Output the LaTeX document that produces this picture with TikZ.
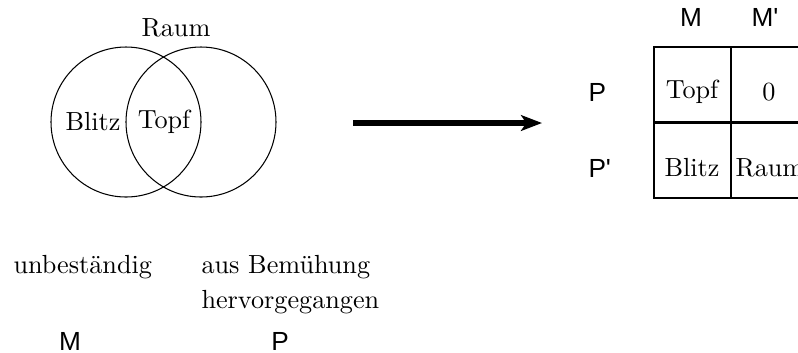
\documentclass[tikz,border=0pt]{standalone}
\usepackage{fontspec}
\newfontfamily\labsans{Liberation Sans}
\usetikzlibrary{arrows.meta}
\begin{document}
\begin{tikzpicture}[x=0.3817pt,y=-0.3817pt,
  venn/.style={draw,line width=0.4pt},
  txt/.style={inner sep=0pt,font=\fontsize{10}{12}\selectfont},
  lab/.style={inner sep=0pt,font=\labsans\fontsize{10}{12}\selectfont},
  grid/.style={draw,line width=0.9pt}]
\useasboundingbox (0,0) rectangle (798,352);
% Venn
\draw[venn] (126,122) circle[radius=75];
\draw[venn] (201,122) circle[radius=75];
\node[txt] (raum) at (176,28) {Raum};
\node[txt] (blitz) at (93,122) {Blitz};
\node[txt] (topf) at (164,122) {Topf};
% arrow
\coordinate (as) at (353,123);
\coordinate (ae) at (542,123);
\draw[line width=2pt,-{Stealth[length=8pt,width=6pt,inset=2pt]}] (as) -- (ae);
% table
\draw[grid] (654,47) rectangle (807,198);
\draw[grid] (731,47) -- (731,198);
\draw[grid] (654,122.5) -- (807,122.5);
\node[lab] (cm) at (691,17) {M};
\node[lab] (cmp) at (765,17) {M'};
\node[lab,anchor=west] (rp) at (588,92) {P};
\node[lab,anchor=west] (rpp) at (588,168) {P'};
\node[txt] (c11) at (692,92) {Topf};
\node[txt] (c12) at (769,92) {0};
\node[txt] (c21) at (692,168) {Blitz};
\node[txt,anchor=west] (c22) at (735,168) {Raum};
% bottom
\node[txt,anchor=base west] (unb) at (13,273) {unbeständig};
\node[txt,anchor=base west] (aus) at (201,273) {aus Bemühung};
\node[txt,anchor=base west] (her) at (201,308) {hervorgegangen};
\node[lab] (bm) at (70,341) {M};
\node[lab] (bp) at (280,341) {P};
\end{tikzpicture}
\end{document}
